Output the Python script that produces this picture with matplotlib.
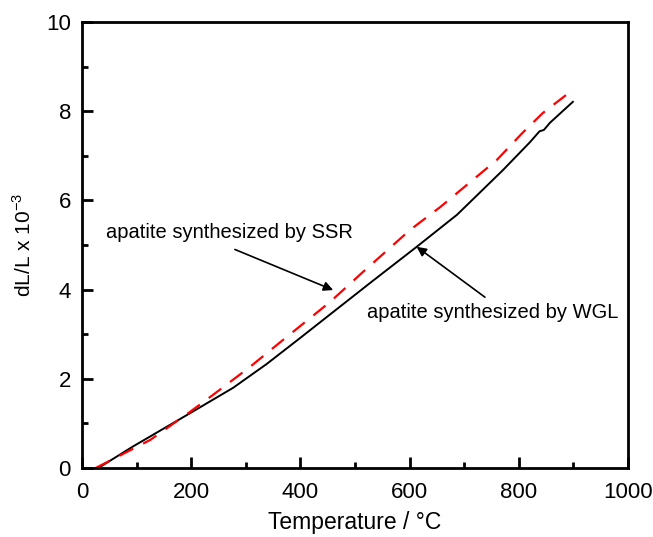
import matplotlib
matplotlib.use('Agg')
import matplotlib.pyplot as plt
from matplotlib.ticker import MultipleLocator

plt.rcParams['font.family'] = ['Liberation Sans', 'DejaVu Sans']
plt.rcParams['mathtext.fontset'] = 'custom'
plt.rcParams['mathtext.rm'] = 'Liberation Sans'

# dilatometry curves
wgl_temp = [30, 93, 198, 277, 338, 399, 454, 533, 613, 687, 729, 771, 820, 838, 846, 857, 899]
wgl_dl = [0.0, 0.48, 1.23, 1.80, 2.33, 2.91, 3.44, 4.20, 4.96, 5.68, 6.18, 6.68, 7.30, 7.55, 7.58, 7.74, 8.21]

ssr_temp = [25, 125, 198, 240, 308, 368, 454, 515, 601, 656, 711, 760, 808, 844, 899]
ssr_dl = [0.0, 0.63, 1.26, 1.64, 2.27, 2.87, 3.72, 4.40, 5.34, 5.85, 6.41, 6.91, 7.53, 7.96, 8.48]

fig = plt.figure(figsize=(6.53, 5.37), dpi=100)
ax = fig.add_axes([0.1256, 0.1285, 0.8361, 0.8305])

ax.plot(wgl_temp, wgl_dl, color='black', lw=1.4)
ax.plot(ssr_temp, ssr_dl, color='red', lw=1.6, dashes=(7, 5))

ax.set_xlim(0, 1000)
ax.set_ylim(0, 10)
ax.xaxis.set_major_locator(MultipleLocator(200))
ax.xaxis.set_minor_locator(MultipleLocator(100))
ax.yaxis.set_major_locator(MultipleLocator(2))
ax.yaxis.set_minor_locator(MultipleLocator(1))
ax.tick_params(which='both', direction='in', width=2, labelsize=16)
ax.tick_params(axis='x', pad=10)
ax.tick_params(axis='y', pad=8)
ax.tick_params(which='major', length=8)
ax.tick_params(which='minor', length=4)
for s in ax.spines.values():
    s.set_linewidth(2)

ax.set_xlabel('Temperature / °C', fontsize=16.5, labelpad=6)
ax.set_ylabel(r'dL/L x 10$^{\mathrm{-3}}$', fontsize=15, labelpad=8)

ax.annotate('', xy=(460, 3.99), xytext=(280, 4.90),
            arrowprops=dict(arrowstyle='-|>', color='black', lw=1.2, mutation_scale=14,
                            shrinkA=0, shrinkB=0))
ax.text(44, 5.28, 'apatite synthesized by SSR', fontsize=14.5, ha='left', va='center')
ax.annotate('', xy=(613, 4.96), xytext=(738, 3.83),
            arrowprops=dict(arrowstyle='-|>', color='black', lw=1.2, mutation_scale=14,
                            shrinkA=0, shrinkB=0))
ax.text(522, 3.48, 'apatite synthesized by WGL', fontsize=14.5, ha='left', va='center')

fig.savefig('out.png', dpi=100)
